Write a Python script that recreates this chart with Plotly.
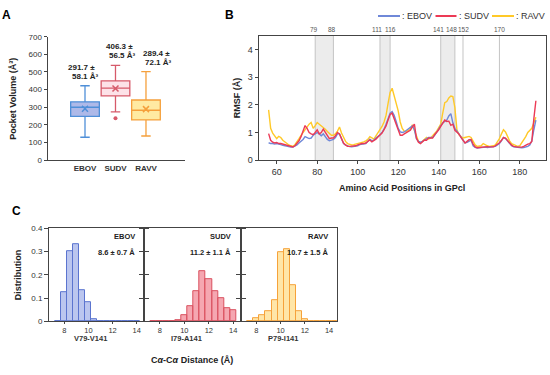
import plotly.graph_objects as go

W, H = 550, 375
def px(x):
    return x / W
def py(y):
    return 1 - y / H

FONT = "Liberation Sans, Arial, sans-serif"

# ---------------- Panel A data ----------------
viruses = ["EBOV", "SUDV", "RAVV"]
box_low = [130, 274, 137]
box_q1 = [248, 365, 228]
box_median = [300, 409, 283]
box_q3 = [331, 450, 341]
box_high = [422, 537, 502]
box_mean = [291.7, 406.3, 289.4]
box_sd = [58.1, 56.5, 72.1]
sudv_outliers = [237]

# ---------------- Panel B data ----------------
residues = list(range(56, 189))
rmsf_ebov = [0.63, 0.6, 0.6, 0.58, 0.6, 0.57, 0.56, 0.54, 0.52, 0.5,
             0.5, 0.47, 0.47, 0.5, 0.55, 0.62, 0.68, 0.75, 0.85, 0.8,
             0.78, 0.8, 0.9, 0.95, 1.0, 0.95, 0.88, 0.95, 0.85, 0.75,
             0.7, 0.72, 0.75, 0.82, 0.95, 0.95, 0.76, 0.6, 0.54, 0.5,
             0.49, 0.48, 0.49, 0.5, 0.52, 0.56, 0.58, 0.58, 0.6, 0.68,
             0.76, 0.7, 0.72, 0.8, 0.85, 0.92, 1.0, 1.12, 1.3, 1.5,
             1.7, 1.76, 1.62, 1.4, 1.15, 1.02, 1.0, 1.02, 1.08, 1.15,
             1.2, 1.24, 1.1, 0.78, 0.68, 0.65, 0.68, 0.72, 0.76, 0.82,
             0.82, 0.82, 0.9, 1.0, 1.12, 1.25, 1.35, 1.4, 1.45, 1.6,
             1.68, 1.35, 1.15, 1.05, 0.95, 0.85, 0.72, 0.62, 0.64, 0.68,
             0.72, 0.52, 0.46, 0.44, 0.45, 0.46, 0.48, 0.47, 0.46, 0.47,
             0.47, 0.48, 0.5, 0.55, 0.6, 0.7, 0.82, 0.78, 0.68, 0.58,
             0.52, 0.48, 0.47, 0.46, 0.46, 0.45, 0.46, 0.47, 0.5, 0.55,
             0.7, 1.1, 1.45]
rmsf_sudv = [0.96, 0.72, 0.65, 0.62, 0.64, 0.6, 0.6, 0.58, 0.56, 0.54,
             0.5, 0.48, 0.48, 0.52, 0.6, 0.7, 0.85, 1.05, 1.25, 1.15,
             1.0, 0.95, 0.92, 1.0, 1.1, 0.95, 1.0, 1.12, 1.0, 0.85,
             0.78, 0.8, 0.8, 0.88, 1.0, 0.95, 0.78, 0.62, 0.55, 0.5,
             0.5, 0.5, 0.5, 0.52, 0.55, 0.58, 0.6, 0.6, 0.62, 0.68,
             0.73, 0.66, 0.7, 0.76, 0.84, 0.9, 0.98, 1.1, 1.24, 1.45,
             1.65, 1.7, 1.52, 1.3, 1.1, 0.9, 0.9, 0.95, 1.0, 1.04,
             1.08, 1.2, 1.3, 0.8, 0.65, 0.6, 0.68, 0.73, 0.72, 0.8,
             0.8, 0.8, 0.92, 1.0, 1.1, 1.22, 1.35, 1.45, 1.4, 1.41,
             1.26, 1.3, 1.08, 1.03, 0.95, 0.82, 0.7, 0.62, 0.68, 0.74,
             0.75, 0.58, 0.48, 0.45, 0.46, 0.47, 0.48, 0.49, 0.49, 0.48,
             0.47, 0.48, 0.52, 0.56, 0.63, 0.72, 0.82, 0.8, 0.7, 0.6,
             0.54, 0.5, 0.48, 0.47, 0.47, 0.47, 0.5, 0.55, 0.58, 0.6,
             0.68, 1.5, 2.15]
rmsf_ravv = [1.82, 1.15, 0.98, 0.88, 0.78, 0.86, 0.82, 0.72, 0.66, 0.6,
             0.55, 0.52, 0.5, 0.56, 0.65, 0.78, 0.9, 1.0, 1.12, 1.22,
             1.3, 1.36, 1.15, 1.25, 1.36, 1.3, 1.25, 1.2, 1.12, 1.04,
             0.95, 0.9, 0.9, 0.95, 1.05, 1.2, 0.98, 0.8, 0.68, 0.6,
             0.56, 0.55, 0.56, 0.58, 0.6, 0.6, 0.63, 0.66, 0.7, 0.75,
             0.85, 0.8, 0.76, 0.88, 0.98, 1.08, 1.22, 1.38, 1.62, 2.05,
             2.45, 2.6, 2.3, 2.1, 1.78, 1.38, 1.15, 1.05, 1.03, 1.08,
             1.12, 1.28, 1.1, 0.85, 0.68, 0.62, 0.68, 0.76, 0.82, 0.77,
             0.8, 0.88, 0.95, 1.05, 1.18, 1.3, 1.7, 2.08, 2.12, 2.25,
             2.32, 2.3, 1.9, 1.1, 0.92, 0.85, 0.8, 0.82, 0.84, 0.86,
             0.82, 0.68, 0.55, 0.5, 0.5, 0.52, 0.6, 0.55, 0.52, 0.5,
             0.5, 0.52, 0.55, 0.65, 0.78, 0.95, 1.1, 1.02, 0.85, 0.7,
             0.6, 0.56, 0.52, 0.5, 0.52, 0.62, 0.75, 0.85, 1.0, 1.08,
             1.15, 1.35, 1.55]
shaded_regions = [(79, 88), (111, 116), (141, 148)]
marker_lines = [79, 88, 111, 116, 141, 148, 152, 170]

# ---------------- Panel C data ----------------
hist_centers = [7.5, 8.0, 8.5, 9.0, 9.5, 10.0, 10.5, 11.0, 11.5, 12.0,
                12.5, 13.0, 13.5, 14.0, 14.5]
dist_ebov = [0.002, 0.125, 0.302, 0.333, 0.135, 0.082, 0.01, 0.003, 0.002,
             0.002, 0.002, 0.002, 0.002, 0.002, None]
dist_sudv = [0.002, 0.002, 0.002, 0.003, 0.006, 0.029, 0.067, 0.131, 0.215,
             0.18, 0.13, 0.102, 0.057, 0.05, None]
dist_ravv = [0.002, 0.015, 0.025, 0.043, 0.092, 0.297, 0.311, 0.156, 0.045,
             0.008, 0.002, 0.002, 0.002, 0.002, 0.002]
pair_labels = ["V79-V141", "I79-A141", "P79-I141"]
dist_stats = ["8.6 ± 0.7 Å", "11.2 ± 1.1 Å", "10.7 ± 1.5 Å"]

line_colors = ["#4f8fd8", "#d65a6a", "#f5a03c"]
fill_colors = ["#aeb9e8", "#fde2e8", "#ffeaa2"]
rmsf_colors = ["#6f88d8", "#ec3a55", "#ffc928"]
hist_line = ["#5b74cf", "#d9505f", "#f6a23a"]
hist_fill = ["rgba(150,168,230,0.65)", "rgba(240,120,135,0.65)", "rgba(255,214,110,0.6)"]

fig = go.Figure()

# ---- Panel A boxes ----
for i, v in enumerate(viruses):
    fig.add_trace(go.Box(
        x=[i], q1=[box_q1[i]], median=[box_median[i]], q3=[box_q3[i]],
        lowerfence=[box_low[i]], upperfence=[box_high[i]],
        width=0.94, whiskerwidth=0.33, boxpoints=False,
        fillcolor=fill_colors[i], line=dict(color=line_colors[i], width=1.3),
        xaxis="x", yaxis="y", showlegend=False, hoverinfo="skip"))
    fig.add_trace(go.Scatter(
        x=[i], y=[box_mean[i]], mode="markers",
        marker=dict(symbol="x-thin", size=6, line=dict(color=line_colors[i], width=1.5)),
        xaxis="x", yaxis="y", showlegend=False, hoverinfo="skip"))
fig.add_trace(go.Scatter(
    x=[1] * len(sudv_outliers), y=sudv_outliers, mode="markers",
    marker=dict(symbol="circle", size=4, color=line_colors[1]),
    xaxis="x", yaxis="y", showlegend=False, hoverinfo="skip"))

# ---- Panel B lines ----
for series, col in [(rmsf_ravv, rmsf_colors[2]), (rmsf_ebov, rmsf_colors[0]), (rmsf_sudv, rmsf_colors[1])]:
    fig.add_trace(go.Scatter(
        x=residues, y=series, mode="lines", line=dict(color=col, width=1.4),
        xaxis="x2", yaxis="y2", showlegend=False, hoverinfo="skip"))

# ---- Panel C histograms ----
for i, data in enumerate([dist_ebov, dist_sudv, dist_ravv]):
    xs = [c for c, d in zip(hist_centers, data) if d is not None]
    ys = [d for d in data if d is not None]
    fig.add_trace(go.Bar(
        x=xs, y=ys, width=0.5,
        marker=dict(color=hist_fill[i], line=dict(color=hist_line[i], width=1)),
        xaxis="x%d" % (i + 3), yaxis="y%d" % (i + 3), showlegend=False, hoverinfo="skip"))

axis_line = "#444444"
tickfont = dict(family=FONT, size=8, color="#333333")
tickfont_c = dict(family=FONT, size=7.5, color="#333333")

layout = dict(
    width=W, height=H, margin=dict(l=0, r=0, t=0, b=0),
    paper_bgcolor="white", plot_bgcolor="rgba(0,0,0,0)",
    font=dict(family=FONT, color="#222222"),
    bargap=0,
    # Panel A
    xaxis=dict(domain=[px(47.5), px(185)], range=[-1.23, 3.28], anchor="y",
               tickvals=[0, 1, 2], ticktext=["<b>%s</b>" % v for v in viruses],
               ticks="", showline=True, linecolor=axis_line, linewidth=1,
               showgrid=False, zeroline=False, tickfont=tickfont),
    yaxis=dict(domain=[py(160), py(33.5)], range=[0, 700], anchor="x",
               dtick=100, ticks="outside", ticklen=3, tickcolor=axis_line,
               showline=True, linecolor=axis_line, linewidth=1,
               showgrid=False, zeroline=False, tickfont=tickfont),
    # Panel B
    xaxis2=dict(domain=[px(258.5), px(546)], range=[51, 193], anchor="y2",
                tickvals=[60, 80, 100, 120, 140, 160, 180],
                ticks="outside", ticklen=3, tickcolor=axis_line,
                showline=True, mirror=True, linecolor=axis_line, linewidth=1,
                showgrid=False, zeroline=False, tickfont=dict(family=FONT, size=9, color="#333")),
    yaxis2=dict(domain=[py(160), py(32.5)], range=[0, 4.5], anchor="x2",
                tickvals=[0, 1, 2, 3, 4], ticks="outside", ticklen=3, tickcolor=axis_line,
                showline=True, mirror=True, linecolor=axis_line, linewidth=1,
                showgrid=False, zeroline=False, tickfont=dict(family=FONT, size=9, color="#333")),
)

c_domains = [(49, 144.3), (144.3, 241), (241, 336.7)]
for i, (a, b) in enumerate(c_domains):
    n = i + 3
    layout["xaxis%d" % n] = dict(
        domain=[px(a), px(b)], range=[6.73, 14.63], anchor="y%d" % n,
        tickvals=[8, 10, 12, 14], ticks="outside", ticklen=2, tickcolor=axis_line,
        showline=True, mirror=True, linecolor=axis_line, linewidth=1,
        showgrid=False, zeroline=False, tickfont=tickfont_c)
    layout["yaxis%d" % n] = dict(
        domain=[py(325.3), py(229.7)], range=[0, 0.4], anchor="x%d" % n,
        tickvals=[0, 0.1, 0.2, 0.3, 0.4], ticktext=["0", "0.1", "0.2", "0.3", "0.4"],
        ticks="outside", ticklen=4, tickcolor=axis_line,
        showticklabels=(i == 0),
        showline=True, mirror=("ticks" if i < 2 else True), linecolor=axis_line, linewidth=1,
        showgrid=False, zeroline=False, tickfont=tickfont)

fig.update_layout(**layout)

# ---- shapes for panel B ----
shapes = []
for a, b in shaded_regions:
    shapes.append(dict(type="rect", xref="x2", yref="y2 domain", x0=a, x1=b, y0=0, y1=1,
                       fillcolor="#ececec", line=dict(width=0), layer="below"))
for m in marker_lines:
    shapes.append(dict(type="line", xref="x2", yref="y2 domain", x0=m, x1=m, y0=0, y1=1,
                       line=dict(color="#c4c4c4", width=1), layer="below"))
# manual legend
legend_items = [(378, 400, "EBOV", rmsf_colors[0]), (435.5, 456.5, "SUDV", rmsf_colors[1]),
                (492, 514, "RAVV", rmsf_colors[2])]
for x0, x1, name, col in legend_items:
    shapes.append(dict(type="line", xref="paper", yref="paper", x0=px(x0), x1=px(x1),
                       y0=py(12.3), y1=py(12.3), line=dict(color=col, width=2)))
fig.update_layout(shapes=shapes)

ann = []
def text(x, y, s, size=8, xanchor="center", yanchor="middle", angle=0, color="#222222", xref="paper", yref="paper"):
    ann.append(dict(x=x, y=y, xref=xref, yref=yref, text=s, showarrow=False,
                    xanchor=xanchor, yanchor=yanchor, textangle=angle,
                    font=dict(family=FONT, size=size, color=color)))

# panel labels
text(px(6), py(11.5), "<b>A</b>", size=12, color="#000")
text(px(230), py(11.5), "<b>B</b>", size=12, color="#000")
text(px(16.7), py(212), "<b>C</b>", size=12, color="#000")

# panel A annotations
a_line1 = [(66, 65), (103.5, 44), (141, 51)]
a_line2 = [(70, 74), (107, 53), (143, 60)]
for i in range(3):
    text(px(a_line1[i][0]), py(a_line1[i][1]), "<b>%.1f ±</b>" % box_mean[i], size=8, xanchor="left")
    text(px(a_line2[i][0]), py(a_line2[i][1]), "<b>%.1f Å³</b>" % box_sd[i], size=8, xanchor="left")
text(px(13), py(97), "<b>Pocket Volume (Å³)</b>", size=9, angle=-90)

# panel B annotations
label_shift = {79: -1, 88: -1, 111: -3, 116: 0, 141: -2, 148: -3, 152: 1, 170: 0}
for m in marker_lines:
    ann.append(dict(x=m, y=1, xref="x2", yref="y2 domain", text=str(m), showarrow=False,
                    yanchor="bottom", yshift=1, xshift=label_shift[m],
                    font=dict(family=FONT, size=6.5, color="#555555")))
text(px(236.5), py(96), "<b>RMSF (Å)</b>", size=9, angle=-90)
text(px(402), py(188.5), "<b>Amino Acid Positions in GPcl</b>", size=9)
for x0, x1, name, col in legend_items:
    text(px(x1), py(12.3), ": " + name, size=9, xanchor="left", color="#333")

# panel C annotations
c_right = [137, 233, 330]
for i, v in enumerate(viruses):
    text(px(c_right[i]), py(238.3), "<b>%s</b>" % v, size=7.5, xanchor="right")
    text(px(c_right[i]), py(254.5), "<b>%s</b>" % dist_stats[i], size=7.5, xanchor="right")
    ann.append(dict(x=10.2, y=py(342.5), xref="x%d" % (i + 3), yref="paper", text="<b>%s</b>" % pair_labels[i],
                    showarrow=False, yanchor="middle", font=dict(family=FONT, size=7.5, color="#333")))
text(px(18), py(278), "<b>Distribution</b>", size=9, angle=-90)
text(px(192), py(365), "<b>C<i>α</i>-C<i>α</i> Distance (Å)</b>", size=9)

fig.update_layout(annotations=ann)
fig.write_html("out.html", config={"displayModeBar": False},
               post_script="document.body.style.margin='0';document.body.style.overflow='hidden';")
